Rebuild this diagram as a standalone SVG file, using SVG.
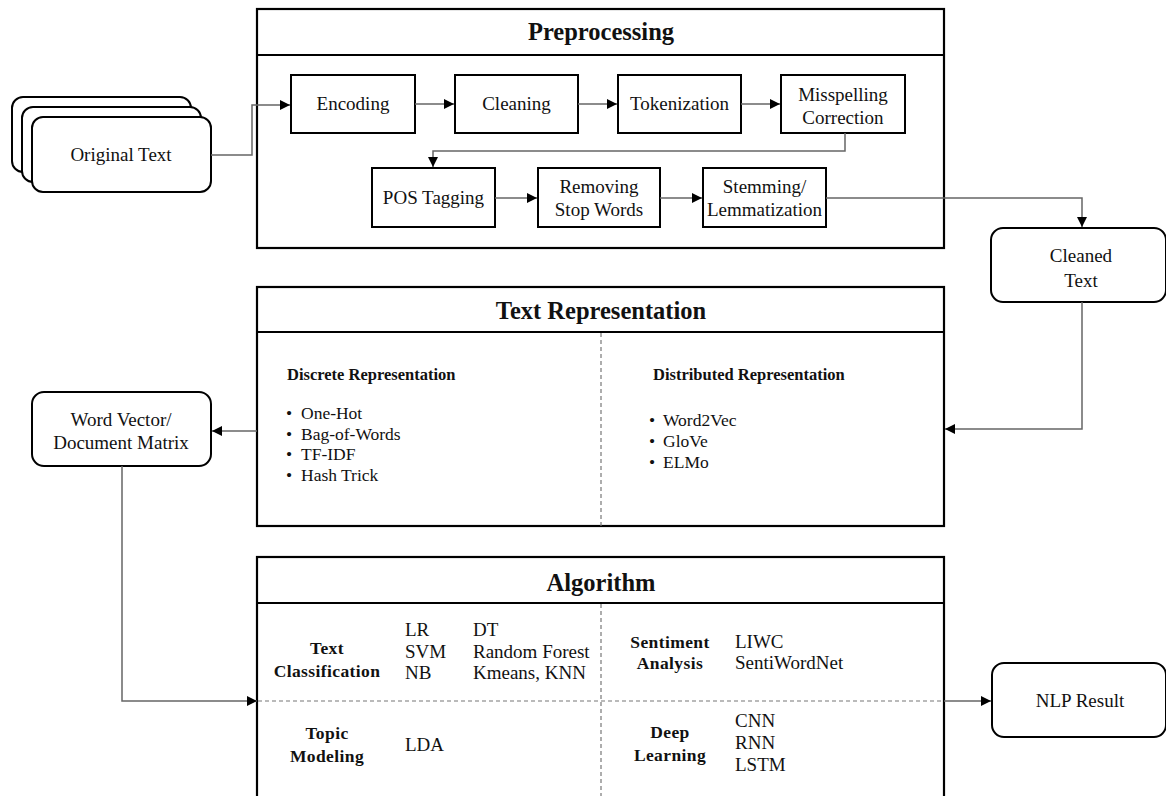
<svg xmlns="http://www.w3.org/2000/svg" width="1166" height="796" viewBox="0 0 1166 796">
<defs>
<marker id="arr" viewBox="0 0 10 10" refX="10" refY="5" markerWidth="10" markerHeight="10" markerUnits="userSpaceOnUse" orient="auto">
<path d="M0,0 L10,5 L0,10 z" fill="#000"/>
</marker>
<style>
text{font-family:"Liberation Serif","Times New Roman",serif;fill:#111;}
.lbl{font-size:19px;text-anchor:middle;}
.title{font-size:24.5px;font-weight:bold;text-anchor:middle;}
.sub{font-size:16.5px;font-weight:bold;}
.bul{font-size:17.5px;}
.alg{font-size:19px;}
.algh{font-size:17.5px;font-weight:bold;text-anchor:middle;letter-spacing:0.4px;}
.box{fill:#fff;stroke:#000;stroke-width:2;}
.rbox{fill:#fff;stroke:#000;stroke-width:2;}
.frame{fill:#fff;stroke:#000;stroke-width:2.2;}
.conn{fill:none;stroke:#666;stroke-width:1.5;}
.dash{fill:none;stroke:#777;stroke-width:1.2;stroke-dasharray:4 3;}
</style>
</defs>
<rect width="1166" height="796" fill="#fff"/>

<!-- Containers -->
<g id="preprocessing">
<rect class="frame" x="257" y="9" width="687" height="239"/>
<line x1="257" y1="55" x2="944" y2="55" stroke="#000" stroke-width="2"/>
<text class="title" x="601" y="40">Preprocessing</text>
</g>
<g id="text-representation">
<rect class="frame" x="257" y="287" width="687" height="239"/>
<line x1="257" y1="332" x2="944" y2="332" stroke="#000" stroke-width="2"/>
<text class="title" x="601" y="319">Text Representation</text>
<line class="dash" x1="601" y1="333" x2="601" y2="526"/>
<text class="sub" x="287" y="380">Discrete Representation</text>
<text class="bul" x="286" y="419">•</text><text class="bul" x="301" y="419">One-Hot</text>
<text class="bul" x="286" y="440">•</text><text class="bul" x="301" y="440">Bag-of-Words</text>
<text class="bul" x="286" y="460">•</text><text class="bul" x="301" y="460">TF-IDF</text>
<text class="bul" x="286" y="481">•</text><text class="bul" x="301" y="481">Hash Trick</text>
<text class="sub" x="653" y="380">Distributed Representation</text>
<text class="bul" x="649" y="426">•</text><text class="bul" x="663" y="426">Word2Vec</text>
<text class="bul" x="649" y="447">•</text><text class="bul" x="663" y="447">GloVe</text>
<text class="bul" x="649" y="468">•</text><text class="bul" x="663" y="468">ELMo</text>
</g>
<g id="algorithm">
<rect class="frame" x="257" y="557" width="687" height="245"/>
<line x1="257" y1="603" x2="944" y2="603" stroke="#000" stroke-width="2"/>
<text class="title" x="601" y="591">Algorithm</text>
<line class="dash" x1="601" y1="604" x2="601" y2="796"/>
<line class="dash" x1="258" y1="701" x2="943" y2="701"/>
<text class="algh" x="327" y="654">Text</text>
<text class="algh" x="327" y="677">Classification</text>
<text class="alg" x="405" y="636">LR</text>
<text class="alg" x="405" y="658">SVM</text>
<text class="alg" x="405" y="679">NB</text>
<text class="alg" x="473" y="636">DT</text>
<text class="alg" x="473" y="658">Random Forest</text>
<text class="alg" x="473" y="679">Kmeans, KNN</text>
<text class="algh" x="670" y="648">Sentiment</text>
<text class="algh" x="670" y="669">Analysis</text>
<text class="alg" x="735" y="648">LIWC</text>
<text class="alg" x="735" y="669">SentiWordNet</text>
<text class="algh" x="327" y="739">Topic</text>
<text class="algh" x="327" y="762">Modeling</text>
<text class="alg" x="405" y="751">LDA</text>
<text class="algh" x="670" y="738">Deep</text>
<text class="algh" x="670" y="761">Learning</text>
<text class="alg" x="735" y="727">CNN</text>
<text class="alg" x="735" y="749">RNN</text>
<text class="alg" x="735" y="771">LSTM</text>
</g>

<!-- Nodes -->
<g id="original-text">
<rect class="rbox" x="12" y="97" width="179" height="75" rx="11"/>
<rect class="rbox" x="22" y="107" width="179" height="75" rx="11"/>
<rect class="rbox" x="32" y="117" width="179" height="75" rx="11"/>
<text class="lbl" x="121" y="161">Original Text</text>
</g>
<g id="encoding"><rect class="box" x="291" y="75" width="124" height="58"/><text class="lbl" x="353" y="110">Encoding</text></g>
<g id="cleaning"><rect class="box" x="455" y="75" width="123" height="58"/><text class="lbl" x="516.5" y="110">Cleaning</text></g>
<g id="tokenization"><rect class="box" x="618" y="75" width="123" height="58"/><text class="lbl" x="679.5" y="110">Tokenization</text></g>
<g id="misspelling"><rect class="box" x="781" y="75" width="124" height="58"/><text class="lbl" x="843" y="101">Misspelling</text><text class="lbl" x="843" y="124">Correction</text></g>
<g id="pos-tagging"><rect class="box" x="372" y="168" width="123" height="59"/><text class="lbl" x="433.5" y="204">POS Tagging</text></g>
<g id="stop-words"><rect class="box" x="538" y="168" width="122" height="59"/><text class="lbl" x="599" y="193">Removing</text><text class="lbl" x="599" y="216">Stop Words</text></g>
<g id="stemming"><rect class="box" x="703" y="168" width="123" height="59"/><text class="lbl" x="764.5" y="193">Stemming/</text><text class="lbl" x="764.5" y="216">Lemmatization</text></g>
<g id="cleaned-text"><rect class="rbox" x="991" y="228" width="175" height="74" rx="12"/><text class="lbl" x="1081" y="262">Cleaned</text><text class="lbl" x="1081" y="287">Text</text></g>
<g id="word-vector"><rect class="rbox" x="32" y="392" width="179" height="74" rx="12"/><text class="lbl" x="121" y="426">Word Vector/</text><text class="lbl" x="121" y="449">Document Matrix</text></g>
<g id="nlp-result"><rect class="rbox" x="992" y="663" width="174" height="74" rx="12"/><text class="lbl" x="1080" y="707">NLP Result</text></g>

<!-- Connectors -->
<g id="connectors">
<path class="conn" d="M211,155 H252 V105 H290" marker-end="url(#arr)"/>
<path class="conn" d="M415,104 H454" marker-end="url(#arr)"/>
<path class="conn" d="M578,104 H617" marker-end="url(#arr)"/>
<path class="conn" d="M741,104 H780" marker-end="url(#arr)"/>
<path class="conn" d="M845,133 V151 H433 V167" marker-end="url(#arr)"/>
<path class="conn" d="M495,198 H537" marker-end="url(#arr)"/>
<path class="conn" d="M660,198 H702" marker-end="url(#arr)"/>
<path class="conn" d="M826,198 H1082 V227" marker-end="url(#arr)"/>
<path class="conn" d="M1082,302 V429 H945" marker-end="url(#arr)"/>
<path class="conn" d="M257,431 H212" marker-end="url(#arr)"/>
<path class="conn" d="M122,466 V701 H257" marker-end="url(#arr)"/>
<path class="conn" d="M944,701 H991" marker-end="url(#arr)"/>
</g>
</svg>
